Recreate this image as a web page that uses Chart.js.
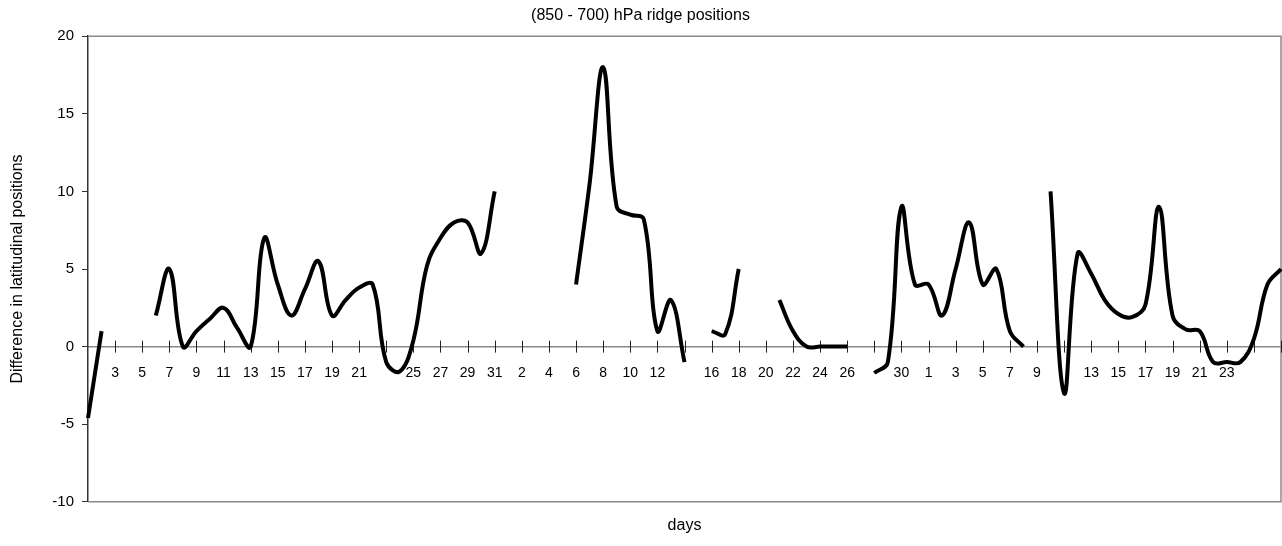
<!DOCTYPE html>
<html>
<head>
<meta charset="utf-8">
<script src="https://cdn.jsdelivr.net/npm/chart.js@4.4.1/dist/chart.umd.min.js"></script>
<style>
  html, body { margin: 0; padding: 0; background: #fff; }
  #wrap { width: 1282px; height: 546px; }
</style>
</head>
<body>
<div id="wrap"><canvas id="ridgeChart" width="1282" height="546"></canvas></div>
<script>
// day of month for each category (three months back to back)
const days = [
  1, 2, 3, 4, 5, 6, 7, 8, 9, 10, 11, 12, 13, 14, 15, 16, 17, 18, 19, 20, 21, 22, 23, 24, 25, 26, 27, 28, 29, 30, 31,
  1, 2, 3, 4, 5, 6, 7, 8, 9, 10, 11, 12, 13, 14, 15, 16, 17, 18, 19, 20, 21, 22, 23, 24, 25, 26, 27, 28, 29, 30, 31,
  1, 2, 3, 4, 5, 6, 7, 8, 9, 10, 11, 12, 13, 14, 15, 16, 17, 18, 19, 20, 21, 22, 23, 24, 25, 26, 27
];

// difference in latitude between 850 and 700 hPa ridge, null = no ridge
const ridgeDiff = [
  -4.6, 1, null, null, null, 2, 5, 0, 1, 1.8,
  2.5, 1.2, 0, 7, 4, 2, 3.7, 5.5, 2, 3,
  3.8, 4, -1, -1.6, 0.4, 5.2, 7, 8, 8, 6,
  10, null, null, null, null, null, 4, 10.5, 18, 9,
  8.5, 8.2, 1, 3, -1, null, 1, 0.8, 5, null,
  null, 3, 1, 0, 0, 0, 0, null, -1.7, -1,
  9, 4, 4, 2, 5, 8, 4, 5, 1, 0,
  null, 10, -3, 6, 4.7, 3, 2.1, 1.9, 2.7, 9,
  2, 1.1, 1, -1, -1, -1, 0.5, 4, 5
];

// labels that do not show in the original (covered by the line)
const hiddenLabels = [0, 22, 44, 58, 72, 86, 88];

const yTicks = [-10, -5, 0, 5, 10, 15, 20];

const fontFamily = '"Liberation Sans", Arial, sans-serif';

// grey border round the plot area (top, right, bottom)
const plotFrame = {
  id: 'plotFrame',
  beforeDatasetsDraw(chart) {
    const { ctx, chartArea: a } = chart;
    ctx.save();
    ctx.strokeStyle = '#8a8a8a';
    ctx.lineWidth = 1.5;
    ctx.beginPath();
    ctx.moveTo(a.left, a.top);
    ctx.lineTo(a.right, a.top);
    ctx.lineTo(a.right, a.bottom);
    ctx.lineTo(a.left, a.bottom);
    ctx.stroke();
    ctx.restore();
  }
};

// tick marks crossing the zero line, every second day
const crossTicks = {
  id: 'crossTicks',
  beforeDatasetsDraw(chart) {
    const { ctx, scales } = chart;
    const y0 = scales.y.getPixelForValue(0);
    ctx.save();
    ctx.strokeStyle = '#222';
    ctx.lineWidth = 1;
    ctx.beginPath();
    for (let i = 2; i < days.length; i += 2) {
      const x = Math.round(scales.x.getPixelForValue(i)) + 0.5;
      ctx.moveTo(x, y0 - 6);
      ctx.lineTo(x, y0 + 6);
    }
    ctx.stroke();
    ctx.restore();
  }
};

const noSidePadding = s => { s.paddingLeft = 0; s.paddingRight = 0; };

new Chart('ridgeChart', {
  type: 'line',
  data: {
    labels: days,
    datasets: [{
      data: ridgeDiff,
      borderColor: '#000',
      borderWidth: 4,
      pointRadius: 0,
      tension: 0.4,
      spanGaps: false,
      fill: false
    }]
  },
  options: {
    responsive: false,
    animation: false,
    layout: { padding: { left: 0, right: 1, top: 0, bottom: 0 } },
    plugins: {
      legend: { display: false },
      tooltip: { enabled: false },
      title: {
        display: true,
        text: '(850 - 700) hPa ridge positions',
        color: '#000',
        font: { family: fontFamily, size: 16, weight: 'normal' },
        padding: { top: 6, bottom: 11 }
      }
    },
    scales: {
      x: {
        type: 'category',
        position: { y: 0 },
        offset: false,
        afterFit: noSidePadding,
        grid: { display: false, drawTicks: false },
        border: { display: true, color: '#8a8a8a', width: 1.5 },
        ticks: {
          autoSkip: false,
          maxRotation: 0,
          padding: 18,
          color: '#000',
          font: { family: fontFamily, size: 14 },
          callback: function (v, i) {
            return (i % 2 === 0 && !hiddenLabels.includes(i)) ? this.getLabelForValue(v) : '';
          }
        }
      },
      xTitle: {
        type: 'category',
        position: 'bottom',
        afterFit: noSidePadding,
        grid: { display: false, drawTicks: false },
        border: { display: false },
        ticks: { display: false },
        title: {
          display: true,
          text: 'days',
          color: '#000',
          font: { family: fontFamily, size: 16 },
          padding: { top: 14, bottom: 11 }
        }
      },
      y: {
        min: -10,
        max: 20,
        afterBuildTicks: s => { s.ticks = yTicks.map(v => ({ value: v })); },
        afterFit: s => { s.width = 88; },
        grid: { drawOnChartArea: false, drawTicks: true, tickLength: 6, color: '#333' },
        border: { display: true, color: '#333', width: 1.5 },
        ticks: {
          padding: 8,
          color: '#000',
          font: { family: fontFamily, size: 15 }
        },
        title: {
          display: true,
          text: 'Difference in latitudinal positions',
          color: '#000',
          font: { family: fontFamily, size: 16 },
          padding: { top: 8, bottom: 0 }
        }
      }
    }
  },
  plugins: [plotFrame, crossTicks]
});
</script>
</body>
</html>
